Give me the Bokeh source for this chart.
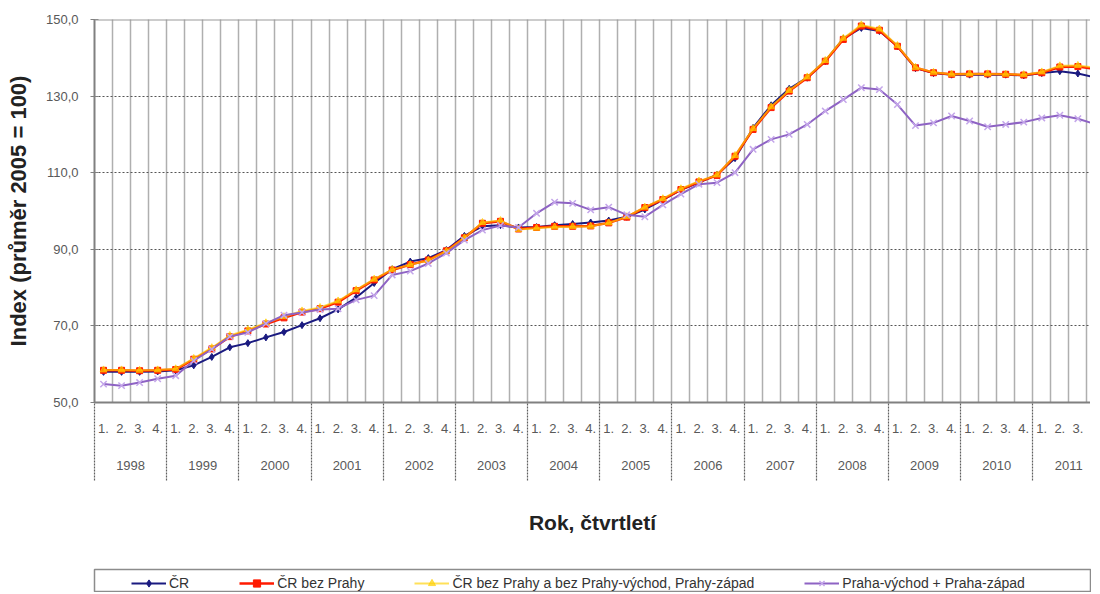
from bokeh.plotting import figure
from bokeh.layouts import column
from bokeh.models import (Range1d, LinearAxis, FixedTicker, Grid, Span, Legend,
                          LegendItem, ColumnDataSource)
from bokeh.embed import file_html
from bokeh.resources import INLINE

# ---- data -------------------------------------------------------------
quarter_labels = ["1.", "2.", "3.", "4."]
years = ["1998", "1999", "2000", "2001", "2002", "2003", "2004",
         "2005", "2006", "2007", "2008", "2009", "2010", "2011"]
y_ticks = [50, 70, 90, 110, 130, 150]
y_tick_labels = ["50,0", "70,0", "90,0", "110,0", "130,0", "150,0"]
series_names = ["ČR", "ČR bez Prahy",
                "ČR bez Prahy a bez Prahy-východ, Prahy-západ",
                "Praha-východ + Praha-západ"]

cr = [58.0, 58.0, 58.0, 58.1, 58.4, 59.7, 61.9, 64.4,
      65.5, 67.0, 68.4, 70.2, 72.0, 74.3, 77.4, 81.2,
      84.8, 86.8, 87.7, 89.8, 93.5, 96.0, 96.3, 95.7,
      95.8, 96.3, 96.6, 97.0, 97.5, 98.5, 100.4, 102.9,
      105.5, 107.4, 109.5, 113.8, 121.7, 127.6, 131.9, 134.8,
      139.1, 145.0, 147.8, 147.0, 143.0, 137.3, 136.0, 135.6,
      135.6, 135.6, 135.6, 135.4, 136.0, 136.5, 135.9, 134.8]

cr_bez_prahy = [58.4, 58.4, 58.3, 58.4, 58.6, 61.3, 64.0, 67.2,
                68.7, 70.5, 72.1, 73.6, 74.5, 76.2, 79.2, 82.0,
                84.6, 86.0, 87.2, 89.6, 93.0, 96.8, 97.3, 95.3,
                95.7, 96.0, 96.0, 96.1, 96.9, 98.4, 100.9, 103.0,
                105.6, 107.6, 109.3, 114.3, 121.3, 127.0, 131.3, 134.8,
                139.1, 144.8, 148.3, 147.2, 143.0, 137.4, 136.1, 135.7,
                135.8, 135.8, 135.7, 135.5, 136.1, 137.6, 137.7, 137.1]

cr_bez_prahy_a_okoli = [58.5, 58.5, 58.4, 58.5, 58.8, 61.5, 64.3, 67.5,
                        69.0, 70.8, 72.4, 73.9, 74.8, 76.5, 79.4, 82.2,
                        84.7, 86.0, 87.1, 89.5, 93.0, 97.0, 97.5, 95.2,
                        95.5, 95.8, 95.9, 96.0, 96.9, 98.5, 101.0, 103.2,
                        105.8, 107.8, 109.4, 114.5, 121.5, 127.2, 131.5, 135.0,
                        139.3, 145.1, 148.6, 147.5, 143.2, 137.5, 136.2, 135.7,
                        135.8, 135.8, 135.7, 135.6, 136.3, 137.9, 138.0, 137.4]

praha_vychod_zapad = [54.8, 54.4, 55.2, 56.2, 57.0, 60.9, 63.9, 67.2,
                      68.3, 70.6, 72.8, 73.5, 74.3, 74.5, 76.8, 77.9,
                      83.3, 84.3, 86.3, 89.0, 92.4, 95.0, 96.2, 95.7,
                      99.4, 102.3, 102.0, 100.3, 101.0, 99.0, 98.5, 101.6,
                      104.4, 107.0, 107.4, 110.0, 116.1, 118.7, 120.0, 122.6,
                      126.1, 129.1, 132.2, 131.7, 127.8, 122.3, 123.0, 124.8,
                      123.5, 122.0, 122.6, 123.2, 124.3, 125.0, 124.1, 122.6]

# ---- styles -----------------------------------------------------------
FONT = "Liberation Sans"
BLUE = "#1a1a80"
RED = "#ff1a00"
YELLOW = "#ffd000"
PURPLE = "#8e63c4"
PURPLE_LIGHT = "#c4a6ea"

n = len(cr)
xq = [i + 0.5 for i in range(n)]
src = ColumnDataSource(dict(x=xq, cr=cr, cbp=cr_bez_prahy,
                            cbpo=cr_bez_prahy_a_okoli, pvz=praha_vychod_zapad))

p = figure(frame_width=996, frame_height=383,
           x_range=Range1d(0, 55.2), y_range=Range1d(50, 150),
           x_axis_type=None, output_backend="svg", toolbar_location=None,
           min_border_left=94, min_border_right=0, min_border_top=19,
           min_border_bottom=166)
p.outline_line_color = None
p.background_fill_color = "white"
p.border_fill_color = "white"

# y axis
ya = p.yaxis[0]
ya.ticker = FixedTicker(ticks=y_ticks)
ya.major_label_overrides = {t: l for t, l in zip(y_ticks, y_tick_labels)}
ya.major_label_text_font = FONT
ya.major_label_text_font_size = "13px"
ya.major_label_text_color = "#595959"
ya.major_label_standoff = 12
ya.major_tick_out = 4
ya.major_tick_in = 4
ya.major_tick_line_color = "#808080"
ya.minor_tick_line_color = None
ya.axis_line_color = "#808080"
ya.axis_line_width = 2
ya.axis_label = "Index (průměr 2005 = 100)"
ya.axis_label_text_font = FONT
ya.axis_label_text_font_size = "22px"
ya.axis_label_text_font_style = "bold"
ya.axis_label_text_color = "#222222"
ya.axis_label_standoff = 12

# horizontal grid
p.ygrid.ticker = FixedTicker(ticks=[t for t in y_ticks if 50 < t < 150])
p.ygrid.grid_line_color = "#555555"
p.ygrid.grid_line_dash = "2 2"
p.ygrid.grid_line_width = 1.2

# vertical grid at quarter boundaries
p.add_layout(Grid(dimension=0, ticker=FixedTicker(ticks=list(range(1, n))),
                  grid_line_color="#606060", grid_line_dash="1 1",
                  grid_line_width=1.5))

p.add_layout(Span(location=150, dimension="width", line_color="#999999",
                  line_width=2))

# quarter axis (year separators drawn as long minor ticks)
qa = LinearAxis(ticker=FixedTicker(ticks=xq, minor_ticks=list(range(0, n, 4))),
                major_label_overrides={x: quarter_labels[i % 4] for i, x in enumerate(xq)},
                major_tick_out=0, major_tick_in=0, major_tick_line_color=None,
                minor_tick_out=78, minor_tick_in=0,
                minor_tick_line_color="#606060", minor_tick_line_dash="2 1",
                minor_tick_line_width=1.2,
                axis_line_color="#808080", axis_line_width=2,
                major_label_standoff=-57, major_label_text_font=FONT,
                major_label_text_font_size="13px",
                major_label_text_color="#595959")
p.add_layout(qa, "below")

year_pos = [4 * k + 2 for k in range(len(years))]
ya2 = LinearAxis(ticker=FixedTicker(ticks=year_pos),
                 major_label_overrides={x: y for x, y in zip(year_pos, years)},
                 major_tick_out=0, major_tick_in=0, major_tick_line_color=None,
                 minor_tick_line_color=None, axis_line_color=None,
                 major_label_standoff=25, major_label_text_font=FONT,
                 major_label_text_font_size="13px",
                 major_label_text_color="#595959",
                 axis_label="Rok, čtvrtletí", axis_label_text_font=FONT,
                 axis_label_text_font_size="21px",
                 axis_label_text_font_style="bold",
                 axis_label_text_color="#222222",
                 axis_label_standoff=38)
p.add_layout(ya2, "below")

# series
def draw(fig, xs, ys, source):
    l1 = fig.line(xs, ys[0], source=source, line_color=BLUE, line_width=2)
    s1 = fig.scatter(xs, ys[0], source=source, marker="diamond", size=7,
                     fill_color=BLUE, line_color=BLUE)
    l2 = fig.line(xs, ys[1], source=source, line_color=RED, line_width=2.5)
    s2 = fig.scatter(xs, ys[1], source=source, marker="square", size=6,
                     fill_color=RED, line_color=RED)
    l3 = fig.line(xs, ys[2], source=source, line_color=YELLOW, line_width=2,
                  line_alpha=0.65)
    s3 = fig.scatter(xs, ys[2], source=source, marker="triangle", size=7,
                     fill_color=YELLOW, line_color=YELLOW, fill_alpha=0.65,
                     line_alpha=0.65)
    l4 = fig.line(xs, ys[3], source=source, line_color=PURPLE, line_width=2)
    s4 = fig.scatter(xs, ys[3], source=source, marker="x", size=9,
                     line_color=PURPLE_LIGHT, line_width=1.5)
    return [[l1, s1], [l2, s2], [l3, s3], [l4, s4]]

cols = ["cr", "cbp", "cbpo", "pvz"]
draw(p, "x", cols, src)

# ---- legend strip (same series, ranges chosen so only the legend shows) ---
p2 = figure(width=1091, height=24, x_range=Range1d(-20, -10),
            y_range=Range1d(0, 1), x_axis_type=None, y_axis_type=None,
            output_backend="svg", toolbar_location=None, min_border_left=82,
            min_border_right=0, min_border_top=1, min_border_bottom=0)
p2.outline_line_color = "#8c8c8c"
p2.outline_line_width = 1.5
p2.background_fill_color = "white"
p2.border_fill_color = "white"
groups = draw(p2, "x", cols, src)

legend = Legend(items=[LegendItem(label=nm, renderers=g)
                       for nm, g in zip(series_names, groups)],
                orientation="horizontal", location=(37, 0),
                padding=2, spacing=50, glyph_width=35, glyph_height=18,
                label_standoff=3, label_text_font=FONT,
                label_text_font_size="14px", label_text_color="#333333",
                border_line_color=None, background_fill_alpha=0,
                margin=0)
p2.add_layout(legend)

layout = column(p, p2, spacing=0)
open("out.html", "w").write(file_html(layout, INLINE))
